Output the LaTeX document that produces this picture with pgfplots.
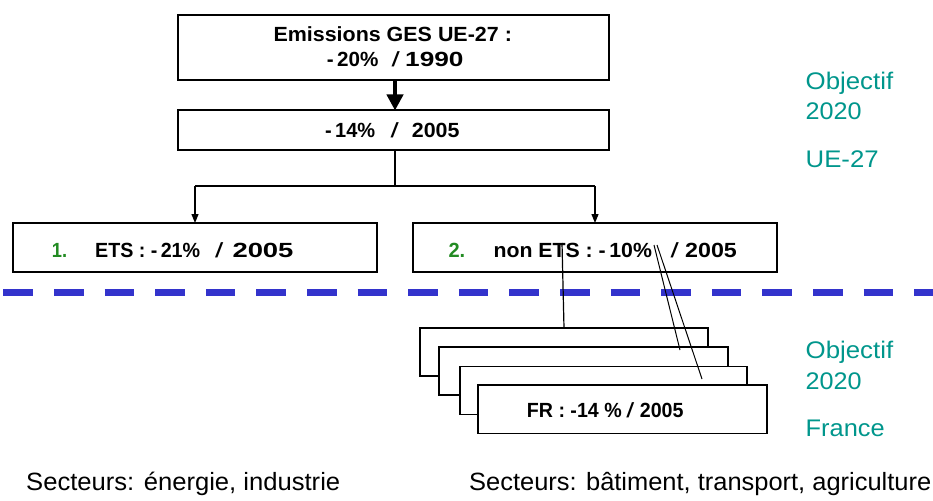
\documentclass[border=0pt]{standalone}
\usepackage{pgfplots}
\pgfplotsset{compat=1.18}
\usepackage{graphicx}
\usepackage{fontspec}
\setmainfont{Liberation Sans}
\usetikzlibrary{arrows.meta}
\definecolor{dashblue}{RGB}{51,51,204}
\definecolor{objteal}{RGB}{0,150,140}
\definecolor{numgreen}{RGB}{34,139,34}
% text stretched to a measured width, keeping its height
\newcommand\fit[3]{\resizebox{#1pt}{\height}{\fontsize{#2pt}{#2pt}\selectfont #3}}
\tikzset{
    txt/.style={anchor=base west, inner sep=0pt},
    sl/.style={anchor=base, inner sep=0pt, font=\fontsize{20.5pt}{21pt}\selectfont\bfseries},
}

\begin{document}
\begin{tikzpicture}
\useasboundingbox (0,0) rectangle (933pt,500pt);
\clip (0,0) rectangle (933pt,500pt);
\begin{axis}[
    at={(0,0)}, anchor=south west,
    width=933pt, height=500pt, scale only axis,
    xmin=0, xmax=933, ymin=0, ymax=500, y dir=reverse,
    hide axis, clip=false, no markers,
]
% dashed separator
\addplot[dashblue, line width=7.5pt, dash pattern=on 29.5pt off 21.1pt]
    coordinates {(3.4,292.5) (945,292.5)};

% EU boxes
\addplot[black, line width=2pt] coordinates {(178.3,15) (609.3,15) (609.3,80) (178.3,80)} --cycle;
\addplot[black, line width=2pt] coordinates {(178.3,110.5) (609.3,110.5) (609.3,150) (178.3,150)} --cycle;
\addplot[black, line width=2pt] coordinates {(13,223.3) (377,223.3) (377,272) (13,272)} --cycle;
\addplot[black, line width=2pt] coordinates {(412.7,223.3) (776.7,223.3) (776.7,272) (412.7,272)} --cycle;

% arrows
\addplot[black, line width=4pt, -{Triangle[length=16pt,width=16pt]}] coordinates {(395,80) (395,110.5)};
\addplot[black, line width=1.2pt] coordinates {(395,150) (395,186)};
\addplot[black, line width=1.2pt] coordinates {(195,186) (595,186)};
\addplot[black, line width=1.2pt, -{Triangle[length=9pt,width=7pt]}] coordinates {(195,186) (195,223)};
\addplot[black, line width=1.2pt, -{Triangle[length=9pt,width=7pt]}] coordinates {(595,186) (595,223)};

% France stack
\addplot[black, line width=1.6pt, fill=white] coordinates {(420,328) (708,328) (708,376) (420,376)} --cycle;
\addplot[black, line width=1.6pt, fill=white] coordinates {(439,347) (728,347) (728,395) (439,395)} --cycle;
\addplot[black, line width=1.6pt, fill=white] coordinates {(460,366.5) (747,366.5) (747,414.5) (460,414.5)} --cycle;
\addplot[black, line width=1.6pt, fill=white] coordinates {(478,385) (767,385) (767,433.5) (478,433.5)} --cycle;

% texts in boxes
\node[txt] at (axis cs:273.3,41.7) {\fit{238.4}{20.5}{\bfseries Emissions GES UE-27 :}};
\node[txt] at (axis cs:326.7,67) {\fit{51.6}{20.5}{\bfseries -\,20\%}};
\node[sl] at (axis cs:396,67) {\textit{/}};
\node[txt] at (axis cs:405,67) {\fit{58.3}{20.5}{\bfseries 1990}};

\node[txt] at (axis cs:325,137) {\fit{50}{20.5}{\bfseries -\,14\%}};
\node[sl] at (axis cs:395,137) {\textit{/}};
\node[txt] at (axis cs:411.7,137) {\fit{47.6}{20.5}{\bfseries 2005}};

\node[txt, text=numgreen] at (axis cs:51.7,257.5) {\fit{15.3}{20.5}{\bfseries 1.}};
\node[txt] at (axis cs:95,257.5) {\fit{105}{20.5}{\bfseries ETS : -\,21\%}};
\node[sl] at (axis cs:219.7,257.5) {\textit{/}};
\node[txt] at (axis cs:232.3,257.5) {\fit{61}{20.5}{\bfseries 2005}};

\node[txt, text=numgreen] at (axis cs:448.3,257.5) {\fit{16.7}{20.5}{\bfseries 2.}};
\node[txt] at (axis cs:493.3,257.5) {\fit{158.4}{20.5}{\bfseries non ETS : -\,10\%}};
\node[sl] at (axis cs:675,257.5) {\textit{/}};
\node[txt] at (axis cs:685,257.5) {\fit{51.7}{20.5}{\bfseries 2005}};

\node[txt] at (axis cs:526.7,417.3) {\fit{156.6}{20.5}{\bfseries FR : -14 \% \textit{/} 2005}};

% links to the national boxes
\addplot[black, line width=1.2pt] coordinates {(562,243) (564,328)};
\addplot[black, line width=1pt] coordinates {(654,245) (680,350)};
\addplot[black, line width=1pt] coordinates {(657,245) (702,379)};

% side labels
\node[txt, text=objteal] at (axis cs:805.5,90) {\fit{87.5}{24}{Objectif}};
\node[txt, text=objteal] at (axis cs:805.5,120) {\fit{56}{24}{2020}};
\node[txt, text=objteal] at (axis cs:805.5,167.7) {\fit{73}{24}{UE-27}};
\node[txt, text=objteal] at (axis cs:805.5,358) {\fit{87.5}{24}{Objectif}};
\node[txt, text=objteal] at (axis cs:805.5,389) {\fit{56}{24}{2020}};
\node[txt, text=objteal] at (axis cs:805.5,436) {\fit{79}{24}{France}};

% sectors
\node[txt] at (axis cs:26,490) {\fit{314}{25}{Secteurs: énergie, industrie}};
\node[txt] at (axis cs:469,490) {\fit{462}{25}{Secteurs: bâtiment, transport, agriculture}};
\end{axis}
\end{tikzpicture}
\end{document}
